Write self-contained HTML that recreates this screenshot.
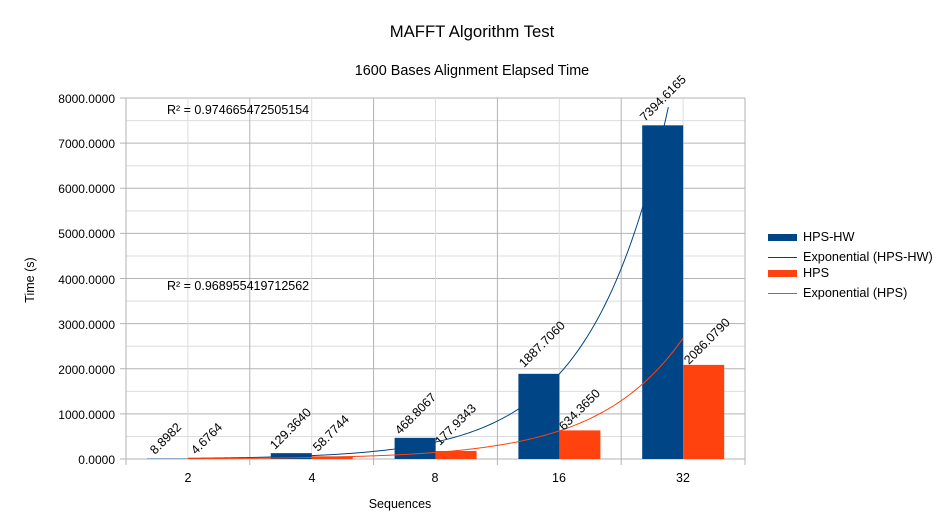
<!DOCTYPE html>
<html><head><meta charset="utf-8"><style>
html,body{margin:0;padding:0;background:#fff;}
svg{display:block;font-family:"Liberation Sans",sans-serif;}
</style></head><body>
<svg id="s" width="943" height="530" xmlns="http://www.w3.org/2000/svg">
<rect width="943" height="530" fill="#fff"/>
<text x="472" y="37" font-size="16.7" text-anchor="middle">MAFFT Algorithm Test</text>
<text x="472" y="75" font-size="14.4" text-anchor="middle">1600 Bases Alignment Elapsed Time</text>
<g id="grid"></g>
<g font-size="12" text-anchor="end">
<text x="115" y="103">8000.0000</text>
<text x="115" y="148">7000.0000</text>
<text x="115" y="193">6000.0000</text>
<text x="115" y="238">5000.0000</text>
<text x="115" y="284">4000.0000</text>
<text x="115" y="329">3000.0000</text>
<text x="115" y="374">2000.0000</text>
<text x="115" y="419">1000.0000</text>
<text x="115" y="464">0.0000</text>
</g>
<g font-size="12.5" text-anchor="middle">
<text x="188" y="482">2</text>
<text x="312" y="482">4</text>
<text x="435" y="482">8</text>
<text x="559" y="482">16</text>
<text x="683" y="482">32</text>
<text x="400" y="508">Sequences</text>
</g>
<text x="0" y="0" font-size="12.5" text-anchor="middle" transform="translate(34,280) rotate(-90)">Time (s)</text>
<g id="bars"></g>
<path id="t1" fill="none" stroke="#004586" stroke-width="1"/>
<path id="t2" fill="none" stroke="#ff420e" stroke-width="1"/>
<g font-size="12.5" id="lbls">
<text transform="translate(155,455) rotate(-45)">8.8982</text>
<text transform="translate(196,455) rotate(-45)">4.6764</text>
<text transform="translate(275,450) rotate(-45)">129.3640</text>
<text transform="translate(318,452) rotate(-45)">58.7744</text>
<text transform="translate(400,435) rotate(-45)">468.8067</text>
<text transform="translate(440,446) rotate(-45)">177.9343</text>
<text transform="translate(524,368) rotate(-45)">1887.7060</text>
<text transform="translate(564,431) rotate(-45)">634.3650</text>
<text transform="translate(645,122) rotate(-45)">7394.6165</text>
<text transform="translate(689,365) rotate(-45)">2086.0790</text>
</g>
<text x="167" y="114" font-size="12.5">R² = 0.974665472505154</text>
<text x="167" y="290" font-size="12.5">R² = 0.968955419712562</text>
<rect x="768" y="234" width="29" height="7" fill="#004586"/>
<text x="803" y="241" font-size="12.7">HPS-HW</text>
<line x1="768" y1="257.5" x2="797" y2="257.5" stroke="#004586"/>
<text x="803" y="261" font-size="12.7">Exponential (HPS-HW)</text>
<rect x="768" y="270" width="29" height="7" fill="#ff420e"/>
<text x="803" y="277" font-size="12.7">HPS</text>
<line x1="768" y1="293.5" x2="797" y2="293.5" stroke="#ff420e"/>
<text x="803" y="297" font-size="12.7">Exponential (HPS)</text>
</svg>
<script>
var NS="http://www.w3.org/2000/svg";
function el(p,t,a){var e=document.createElementNS(NS,t);for(var k in a)e.setAttribute(k,a[k]);p.appendChild(e);return e;}
var L=126,R=745,T=98,B=459;
function Y(v){return B-v*(B-T)/8000;}
function X(i){return 188+(i-1)*123.8;}
var g=document.getElementById('grid');
for(var k=0;k<=16;k++){var y=Y(k*500);var maj=k%2==0;
el(g,'line',{x1:maj?120:L,x2:R,y1:y,y2:y,stroke:maj?'#b3b3b3':'#dddddd'});}
for(var k=0;k<=10;k++){var x=L+k*(R-L)/10;
el(g,'line',{x1:x,x2:x,y1:T,y2:k%2==0?B+6:B,stroke:k%2==0?'#b3b3b3':'#dddddd'});}
var hw=[8.8982,129.364,468.8067,1887.706,7394.6165],h=[4.6764,58.7744,177.9343,634.365,2086.079];
var b=document.getElementById('bars');
for(var i=0;i<5;i++){var c=X(i+1);
el(b,'rect',{x:c-41,y:Y(hw[i]),width:41,height:B-Y(hw[i]),fill:'#004586'});
el(b,'rect',{x:c,y:Y(h[i]),width:41,height:B-Y(h[i]),fill:'#ff420e'});}
function fit(d){var ys=0;var ly=d.map(Math.log);for(var i=0;i<5;i++){ys+=ly[i];}ys/=5;var s=0,sx=0;for(var i=0;i<5;i++){s+=(i-2)*(ly[i]-ys);sx+=(i-2)*(i-2);}var bb=s/sx;return [ys-3*bb,bb];}
function tr(id,d){var f=fit(d),p='';for(var t=1;t<=5.0001;t+=0.02){var v=Math.exp(f[0]+f[1]*t);if(v>8000)break;p+=(p?'L':'M')+X(t).toFixed(2)+','+Y(v).toFixed(2);}document.getElementById(id).setAttribute('d',p);}
tr('t1',hw);tr('t2',h);
</script>
</body></html>
